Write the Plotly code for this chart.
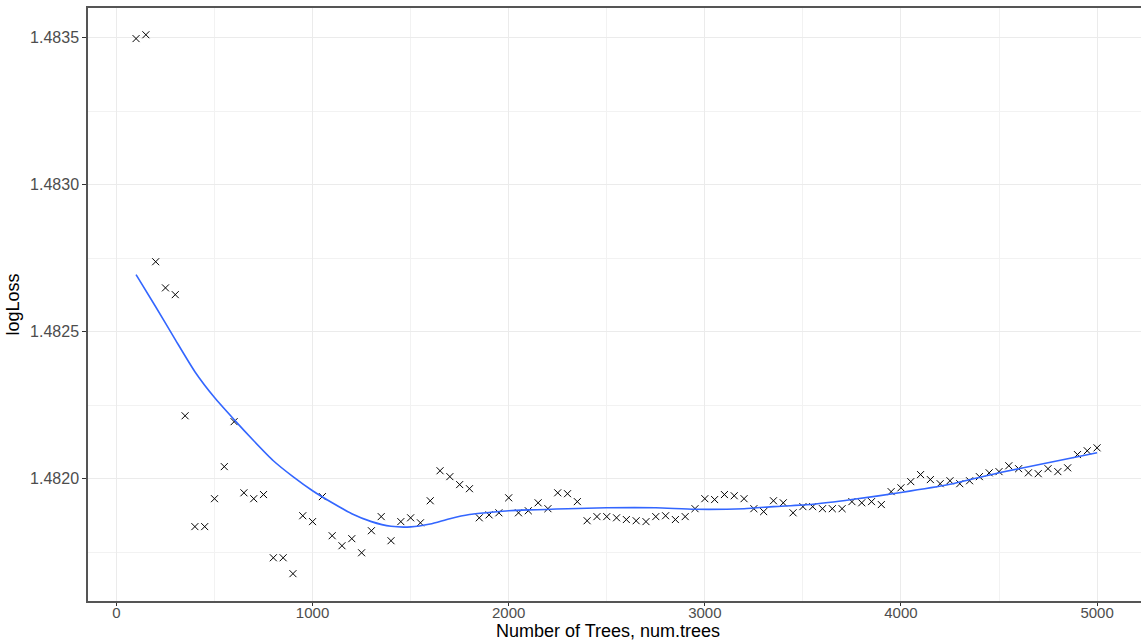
import plotly.graph_objects as go

num_trees = list(range(100, 5001, 50))
log_loss = [
    1.483497, 1.483510, 1.482738, 1.482649, 1.482626, 1.482214, 1.481837, 1.481837, 1.481932, 1.482041,
    1.482194, 1.481952, 1.481932, 1.481946, 1.481731, 1.481731, 1.481677, 1.481874, 1.481854, 1.481939,
    1.481806, 1.481772, 1.481796, 1.481748, 1.481823, 1.481871, 1.481789, 1.481854, 1.481867, 1.481850,
    1.481925, 1.482027, 1.482007, 1.481980, 1.481966, 1.481867, 1.481877, 1.481884, 1.481935, 1.481884,
    1.481891, 1.481918, 1.481898, 1.481952, 1.481949, 1.481922, 1.481857, 1.481871, 1.481871, 1.481867,
    1.481861, 1.481857, 1.481854, 1.481871, 1.481874, 1.481861, 1.481871, 1.481898, 1.481932, 1.481929,
    1.481946, 1.481942, 1.481932, 1.481898, 1.481888, 1.481925, 1.481918, 1.481884, 1.481905, 1.481905,
    1.481898, 1.481898, 1.481898, 1.481922, 1.481918, 1.481922, 1.481912, 1.481956, 1.481969, 1.481990,
    1.482014, 1.481997, 1.481983, 1.481993, 1.481983, 1.481993, 1.482007, 1.482020, 1.482024, 1.482044,
    1.482034, 1.482020, 1.482017, 1.482034, 1.482024, 1.482037, 1.482082, 1.482095, 1.482105,
]

smooth_x = [100, 200, 300, 400, 500, 600, 700, 800, 900, 1000, 1100, 1200, 1300, 1400, 1500,
            1600, 1700, 1800, 1900, 2000, 2300, 2500, 2750, 2950, 3200, 3350, 3550, 3750,
            4000, 4250, 4500, 4750, 5000]
smooth_y = [1.482694, 1.482585, 1.482473, 1.482364, 1.482276, 1.482201, 1.482129, 1.482061,
            1.482007, 1.481959, 1.481918, 1.481881, 1.481854, 1.481838, 1.481836, 1.481846,
            1.481864, 1.481878, 1.481885, 1.481891, 1.481898, 1.481901, 1.481901, 1.481896,
            1.481898, 1.481905, 1.481913, 1.481929, 1.481953, 1.481981, 1.482020, 1.482054,
            1.482088]

x_ticks = [0, 1000, 2000, 3000, 4000, 5000]
y_ticks = [1.4820, 1.4825, 1.4830, 1.4835]
y_tick_labels = ["1.4820", "1.4825", "1.4830", "1.4835"]

fig = go.Figure()
fig.add_trace(go.Scatter(
    x=num_trees, y=log_loss, mode="markers",
    marker=dict(symbol="x-thin-open", size=7, color="black", line=dict(width=1, color="black")),
    showlegend=False, hoverinfo="x+y",
))
fig.add_trace(go.Scatter(
    x=smooth_x, y=smooth_y, mode="lines",
    line=dict(color="#3366FF", width=1.6, shape="spline", smoothing=0.6),
    showlegend=False,
))

font = "Liberation Sans, Arial, sans-serif"
fig.update_layout(
    width=1141, height=641,
    margin=dict(l=88, r=0, t=8, b=40),
    plot_bgcolor="white", paper_bgcolor="white",
    font=dict(family=font),
    xaxis=dict(
        range=[-145, 5224], tickvals=x_ticks, ticks="outside", ticklen=3, tickwidth=1,
        tickcolor="#333333", showline=True, linecolor="#555555", linewidth=1.5, mirror=True,
        showgrid=True, gridcolor="#ebebeb", gridwidth=1, zeroline=False,
        minor=dict(dtick=500, tick0=500, showgrid=True, gridcolor="#f2f2f2", gridwidth=0.7),
        tickfont=dict(size=15, color="#4d4d4d"), ticklabelstandoff=-6,
    ),
    yaxis=dict(
        range=[1.481584, 1.483601], tickvals=y_ticks, ticktext=y_tick_labels, ticks="outside",
        ticklen=4, tickwidth=1, tickcolor="#333333", showline=True, linecolor="#555555",
        linewidth=1.5, showgrid=True, gridcolor="#ebebeb", gridwidth=1, zeroline=False,
        minor=dict(dtick=0.0005, tick0=1.48175, showgrid=True, gridcolor="#f2f2f2", gridwidth=0.7),
        tickfont=dict(size=16, color="#4d4d4d"),
        title=dict(text="logLoss", font=dict(size=18, color="black"), standoff=6),
    ),
    annotations=[dict(
        text="Number of Trees, num.trees", xref="paper", yref="paper",
        x=(608 - 88) / 1053, y=-30 / 593, xanchor="center", yanchor="middle",
        showarrow=False, font=dict(size=18, color="black"),
    )],
)

fig.write_html("out.html")
